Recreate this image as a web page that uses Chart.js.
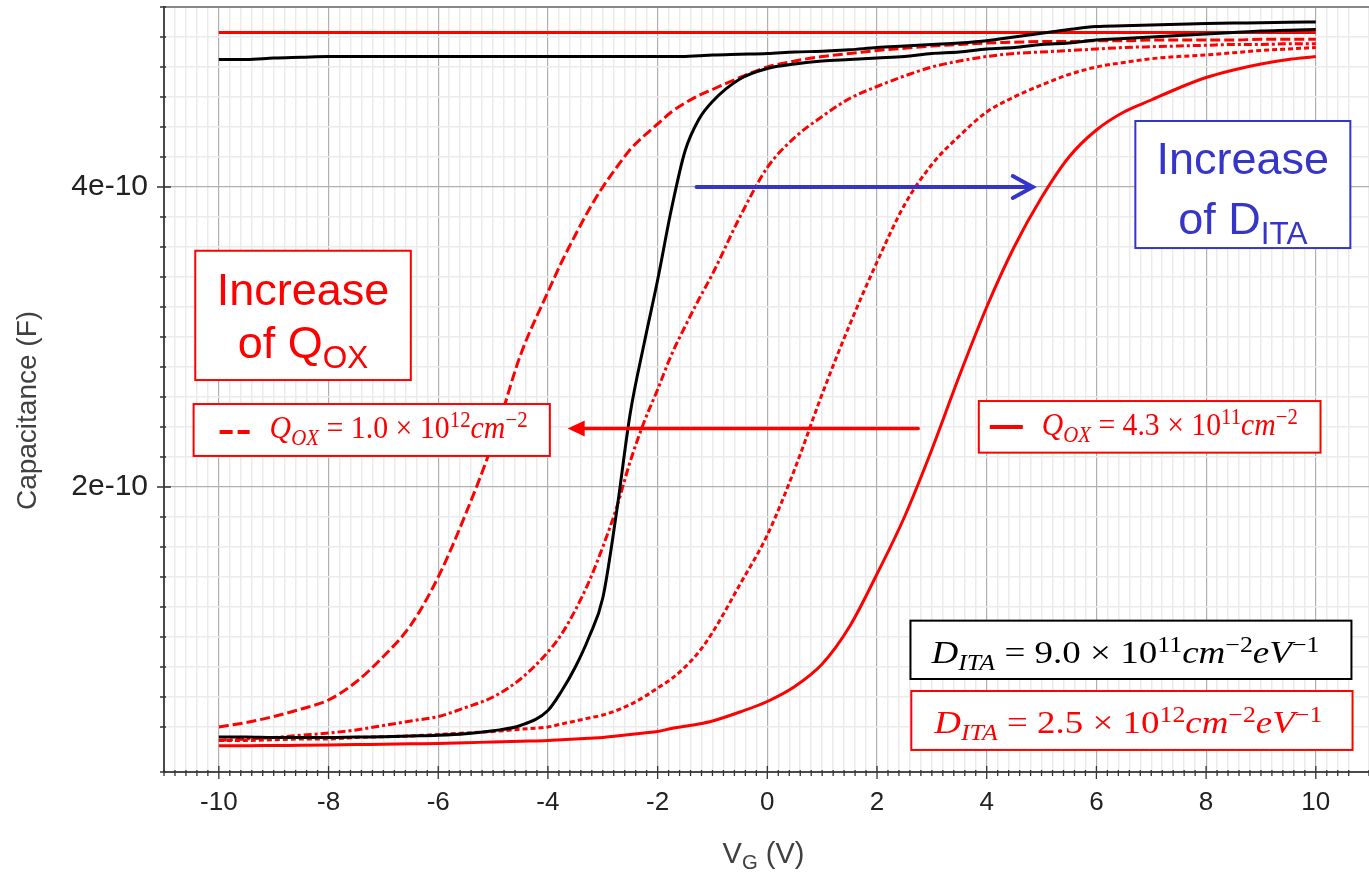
<!DOCTYPE html>
<html>
<head>
<meta charset="utf-8">
<script src="https://cdn.jsdelivr.net/npm/chart.js@4.4.1/dist/chart.umd.min.js"></script>
<style>
  html, body { margin: 0; padding: 0; background: #fff; }
</style>
</head>
<body>
<canvas id="cvChart" width="1369" height="874"></canvas>
<script>
// gate voltage sweep (V)
const vg = [-10, -9.5, -9, -8.5, -8, -7.5, -7, -6.5, -6, -5.5, -5, -4.5,
  -4, -3.75, -3.5, -3.25, -3, -2.75, -2.5, -2.25, -2, -1.75, -1.5, -1.25, -1,
  -0.5, 0, 0.5, 1, 1.5, 2, 2.5, 3, 3.5, 4, 4.5, 5, 5.5, 6, 6.5, 7, 7.5, 8, 8.5, 9, 9.5, 10];

// capacitance values, in units of 1e-10 F
const capBlackSteep = [0.333, 0.333, 0.330, 0.330, 0.330, 0.333, 0.335, 0.340, 0.345, 0.355, 0.375, 0.410,
  0.510, 0.640, 0.800, 1.000, 1.260, 1.830, 2.490, 2.950, 3.380, 3.850, 4.240, 4.450, 4.570,
  4.720, 4.790, 4.820, 4.840, 4.850, 4.860, 4.870, 4.890, 4.900, 4.920, 4.930, 4.950, 4.960, 4.980, 4.990, 5.000, 5.010, 5.020, 5.030, 5.040, 5.045, 5.050];
const capBlackFlat = [4.850, 4.850, 4.860, 4.865, 4.870, 4.870, 4.870, 4.870, 4.870, 4.870, 4.870, 4.870,
  4.870, 4.870, 4.870, 4.870, 4.870, 4.870, 4.870, 4.870, 4.870, 4.870, 4.870, 4.875, 4.880,
  4.885, 4.890, 4.900, 4.905, 4.915, 4.930, 4.940, 4.950, 4.960, 4.975, 5.000, 5.025, 5.050, 5.070, 5.075, 5.080, 5.085, 5.090, 5.093, 5.095, 5.098, 5.100];
const capLongDash = [0.400, 0.430, 0.470, 0.520, 0.580, 0.700, 0.870, 1.080, 1.400, 1.820, 2.300, 2.880,
  3.300, 3.500, 3.680, 3.850, 4.000, 4.130, 4.250, 4.340, 4.420, 4.500, 4.560, 4.610, 4.650,
  4.730, 4.800, 4.840, 4.870, 4.890, 4.910, 4.925, 4.940, 4.950, 4.960, 4.965, 4.970, 4.970, 4.975, 4.975, 4.980, 4.980, 4.980, 4.980, 4.985, 4.985, 4.985];
const capDashDot = [0.310, 0.320, 0.330, 0.345, 0.360, 0.380, 0.410, 0.440, 0.470, 0.530, 0.600, 0.720,
  0.900, 1.020, 1.180, 1.370, 1.600, 1.860, 2.170, 2.430, 2.650, 2.880, 3.070, 3.250, 3.420,
  3.800, 4.130, 4.330, 4.470, 4.590, 4.670, 4.740, 4.800, 4.840, 4.870, 4.890, 4.900, 4.910, 4.920, 4.930, 4.935, 4.940, 4.945, 4.950, 4.950, 4.955, 4.955];
const capShortDash = [0.310, 0.310, 0.315, 0.320, 0.320, 0.330, 0.335, 0.340, 0.350, 0.360, 0.370, 0.385,
  0.400, 0.420, 0.440, 0.460, 0.480, 0.510, 0.550, 0.600, 0.660, 0.720, 0.800, 0.900, 1.030,
  1.350, 1.680, 2.120, 2.620, 3.080, 3.500, 3.880, 4.150, 4.340, 4.500, 4.600, 4.680, 4.750, 4.800, 4.830, 4.855, 4.870, 4.880, 4.895, 4.910, 4.920, 4.930];
const capRedSolid = [0.275, 0.275, 0.277, 0.278, 0.280, 0.283, 0.285, 0.288, 0.290, 0.295, 0.300, 0.305,
  0.310, 0.315, 0.320, 0.325, 0.330, 0.340, 0.350, 0.360, 0.370, 0.390, 0.405, 0.420, 0.440,
  0.500, 0.570, 0.670, 0.820, 1.070, 1.420, 1.800, 2.250, 2.740, 3.200, 3.600, 3.930, 4.200, 4.380, 4.500, 4.580, 4.660, 4.730, 4.780, 4.820, 4.850, 4.870];
const vgFlatRed = [-10, 10];
const capFlatRed = [5.03, 5.03];

// tick labels
const xTickValues = [-10, -8, -6, -4, -2, 0, 2, 4, 6, 8, 10];
const xTickLabels = ['-10', '-8', '-6', '-4', '-2', '0', '2', '4', '6', '8', '10'];
const yTickValues = [2e-10, 4e-10];
const yTickLabels = ['2e-10', '4e-10'];

const RED = '#ff0000';
const BLUE = '#3535c8';
const SANS = '"Liberation Sans", Arial, sans-serif';
const SERIF = '"Liberation Serif", "Times New Roman", serif';

function pts(xs, ys) {
  return xs.map((x, i) => ({ x: x, y: ys[i] * 1e-10 }));
}
function findTick(list, v, tol) {
  return list.findIndex(t => Math.abs(t - v) < tol);
}

// annotation boxes, in data coordinates (V, F)
const notes = [
  { x0: -10.43, x1: -6.50, y0: 3.575e-10, y1: 2.713e-10, color: RED, lineW: 2,
    sans: [{ dy: 54, segs: [{ t: 'Increase' }] }, { dy: 107, segs: [{ t: 'of Q' }, { t: 'OX', sub: true }] }] },
  { x0: 6.71, x1: 10.63, y0: 4.44e-10, y1: 3.593e-10, color: BLUE, lineW: 2,
    sans: [{ dy: 53, segs: [{ t: 'Increase' }] }, { dy: 113, segs: [{ t: 'of D' }, { t: 'ITA', sub: true }] }] },
  { x0: -10.46, x1: -3.965, y0: 2.553e-10, y1: 2.207e-10, color: RED, lineW: 2,
    sample: 'dash', tx: 76, ty: 34, tw: 258,
    math: [{ t: 'Q', it: true }, { t: 'OX', it: true, sub: true }, { t: ' = 1.0 × 10' }, { t: '12', sup: true },
      { t: 'cm', it: true }, { t: '\u22122', sup: true }] },
  { x0: 3.856, x1: 10.086, y0: 2.573e-10, y1: 2.229e-10, color: RED, lineW: 2,
    sample: 'line', tx: 63, ty: 34, tw: 256,
    math: [{ t: 'Q', it: true }, { t: 'OX', it: true, sub: true }, { t: ' = 4.3 × 10' }, { t: '11', sup: true },
      { t: 'cm', it: true }, { t: '\u22122', sup: true }] },
  { x0: 2.61, x1: 10.65, y0: 1.109e-10, y1: 0.72e-10, color: '#000', lineW: 2,
    tx: 21, ty: 42, tw: 388,
    math: [{ t: 'D', it: true }, { t: 'ITA', it: true, sub: true }, { t: ' = 9.0 × 10' }, { t: '11', sup: true },
      { t: 'cm', it: true }, { t: '\u22122', sup: true }, { t: 'eV', it: true }, { t: '\u22121', sup: true }] },
  { x0: 2.625, x1: 10.67, y0: 0.64e-10, y1: 0.247e-10, color: RED, lineW: 2,
    tx: 23, ty: 42, tw: 388,
    math: [{ t: 'D', it: true }, { t: 'ITA', it: true, sub: true }, { t: ' = 2.5 × 10' }, { t: '12', sup: true },
      { t: 'cm', it: true }, { t: '\u22122', sup: true }, { t: 'eV', it: true }, { t: '\u22121', sup: true }] }
];

const arrows = [
  { from: -1.29, to: 4.84, at: 4.0e-10, color: BLUE, width: 4, head: 'open' },
  { from: 2.75, to: -3.64, at: 2.39e-10, color: RED, width: 3.5, head: 'filled' }
];

function fontFor(s, size, family) {
  const fs = (s.sup || s.sub) ? size * 0.7 : size;
  return (s.it ? 'italic ' : '') + fs.toFixed(2) + 'px ' + family;
}
function richWidth(ctx, segs, size, family) {
  let w = 0;
  segs.forEach(s => { ctx.font = fontFor(s, size, family); w += ctx.measureText(s.t).width; });
  return w;
}
function drawRich(ctx, segs, x, y, size, family, supUp, subDown) {
  segs.forEach(s => {
    ctx.font = fontFor(s, size, family);
    const dy = s.sup ? -size * supUp : (s.sub ? size * subDown : 0);
    ctx.fillText(s.t, x, y + dy);
    x += ctx.measureText(s.t).width;
  });
}

const overlay = {
  id: 'overlay',
  afterDraw(chart) {
    const { ctx, chartArea: a } = chart;
    const xs = chart.scales.x, ys = chart.scales.y;
    ctx.save();

    // top frame line
    ctx.strokeStyle = '#666';
    ctx.lineWidth = 1.5;
    ctx.beginPath();
    ctx.moveTo(a.left, a.top);
    ctx.lineTo(a.right, a.top);
    ctx.stroke();

    // tick marks (major ones cross the axis)
    ctx.strokeStyle = '#333';
    ctx.lineWidth = 1.3;
    ctx.beginPath();
    xs.ticks.forEach(t => {
      const p = xs.getPixelForValue(t.value);
      if (findTick(xTickValues, t.value, 1e-6) >= 0) {
        ctx.moveTo(p, a.bottom - 6); ctx.lineTo(p, a.bottom + 7);
      } else {
        ctx.moveTo(p, a.bottom - 2); ctx.lineTo(p, a.bottom + 4);
      }
    });
    ys.ticks.forEach(t => {
      const p = ys.getPixelForValue(t.value);
      if (findTick(yTickValues, t.value, 1e-15) >= 0) {
        ctx.moveTo(a.left - 7, p); ctx.lineTo(a.left + 7, p);
      } else {
        ctx.moveTo(a.left - 4, p); ctx.lineTo(a.left + 2, p);
      }
    });
    ctx.stroke();

    // axis titles
    ctx.fillStyle = '#404040';
    ctx.textBaseline = 'alphabetic';
    const xt = [{ t: 'V' }, { t: 'G', sub: true }, { t: ' (V)' }];
    const xtw = richWidth(ctx, xt, 29, SANS);
    drawRich(ctx, xt, (a.left + a.right) / 2 - xtw / 2 - 3, a.bottom + 91, 29, SANS, 0.4, 0.2);
    ctx.save();
    ctx.translate(a.left - 136, (a.top + a.bottom) / 2 + 21);
    ctx.rotate(-Math.PI / 2);
    ctx.font = '28px ' + SANS;
    ctx.textAlign = 'center';
    ctx.textBaseline = 'middle';
    ctx.fillText('Capacitance (F)', 0, 0);
    ctx.restore();

    // boxes with text
    notes.forEach(n => {
      const l = xs.getPixelForValue(n.x0), r = xs.getPixelForValue(n.x1);
      const t = ys.getPixelForValue(n.y0), b = ys.getPixelForValue(n.y1);
      ctx.fillStyle = '#fff';
      ctx.fillRect(l, t, r - l, b - t);
      ctx.strokeStyle = n.color;
      ctx.lineWidth = n.lineW;
      ctx.strokeRect(l, t, r - l, b - t);
      ctx.fillStyle = n.color;
      ctx.textAlign = 'left';
      ctx.textBaseline = 'alphabetic';
      if (n.sans) {
        n.sans.forEach(line => {
          const w = richWidth(ctx, line.segs, 45, SANS);
          drawRich(ctx, line.segs, (l + r) / 2 - w / 2, t + line.dy, 45, SANS, 0.4, 0.22);
        });
      }
      if (n.math) {
        // tall glyphs squeezed sideways to the box's text width
        const size = 32;
        const w = richWidth(ctx, n.math, size, SERIF);
        ctx.save();
        ctx.translate(l + n.tx, t + n.ty);
        ctx.scale(n.tw / w, 1);
        drawRich(ctx, n.math, 0, 0, size, SERIF, 0.34, 0.22);
        ctx.restore();
      }
      if (n.sample === 'dash') {
        ctx.lineWidth = 4;
        ctx.beginPath();
        ctx.moveTo(l + 26, t + 28); ctx.lineTo(l + 39, t + 28);
        ctx.moveTo(l + 44, t + 28); ctx.lineTo(l + 56, t + 28);
        ctx.stroke();
      } else if (n.sample === 'line') {
        ctx.lineWidth = 4;
        ctx.beginPath();
        ctx.moveTo(l + 11, t + 26); ctx.lineTo(l + 44, t + 26);
        ctx.stroke();
      }
    });

    // arrows
    arrows.forEach(ar => {
      const x0 = xs.getPixelForValue(ar.from), x1 = xs.getPixelForValue(ar.to);
      const yy = ys.getPixelForValue(ar.at);
      const dir = Math.sign(x1 - x0);
      ctx.strokeStyle = ar.color;
      ctx.fillStyle = ar.color;
      ctx.lineWidth = ar.width;
      ctx.lineCap = 'round';
      ctx.beginPath();
      if (ar.head === 'open') {
        ctx.moveTo(x0, yy); ctx.lineTo(x1 - dir * 2, yy);
        ctx.moveTo(x1 - dir * 20, yy - 11); ctx.lineTo(x1, yy); ctx.lineTo(x1 - dir * 20, yy + 11);
        ctx.stroke();
      } else {
        ctx.moveTo(x0, yy); ctx.lineTo(x1 - dir * 12, yy);
        ctx.stroke();
        ctx.beginPath();
        ctx.moveTo(x1, yy);
        ctx.lineTo(x1 - dir * 17, yy - 8);
        ctx.lineTo(x1 - dir * 17, yy + 8);
        ctx.closePath();
        ctx.fill();
      }
    });
    ctx.restore();
  }
};

function lineSet(label, xs, ys, color, dash, width) {
  return {
    label: label,
    data: pts(xs, ys),
    borderColor: color,
    borderWidth: width,
    borderDash: dash,
    pointRadius: 0,
    fill: false,
    cubicInterpolationMode: 'monotone'
  };
}

const chart = new Chart(document.getElementById('cvChart'), {
  type: 'line',
  data: {
    datasets: [
      lineSet('DITA 9.0e11, steep', vg, capBlackSteep, '#000', [], 3),
      lineSet('DITA 9.0e11, flat', vg, capBlackFlat, '#000', [], 3),
      lineSet('Qox 1.0e12', vg, capLongDash, RED, [10, 4], 3),
      lineSet('dash-dot', vg, capDashDot, RED, [8, 3, 3, 3], 3),
      lineSet('short dash', vg, capShortDash, RED, [5, 3], 3),
      lineSet('Qox 4.3e11', vg, capRedSolid, RED, [], 3),
      lineSet('flat red', vgFlatRed, capFlatRed, RED, [], 3)
    ]
  },
  options: {
    responsive: false,
    animation: false,
    devicePixelRatio: 1,
    layout: { padding: { top: 7, right: 0, left: 0, bottom: 0 } },
    plugins: { legend: { display: false }, tooltip: { enabled: false } },
    scales: {
      x: {
        type: 'linear',
        min: -11,
        max: 10.97,
        afterFit: s => { s.height = 102; s.paddingLeft = 0; s.paddingRight = 0; },
        border: { color: '#4a4a4a', width: 2 },
        grid: {
          drawTicks: false,
          color: c => findTick(xTickValues, c.tick.value, 1e-6) >= 0 ? '#b0b0b0' : '#ebebeb',
          lineWidth: c => findTick(xTickValues, c.tick.value, 1e-6) >= 0 ? 1.2 : 1.5
        },
        ticks: {
          stepSize: 0.2,
          autoSkip: false,
          maxRotation: 0,
          padding: 15,
          color: '#222',
          font: { family: SANS, size: 26 },
          callback: v => {
            const i = findTick(xTickValues, v, 1e-6);
            return i >= 0 ? xTickLabels[i] : '';
          }
        }
      },
      y: {
        type: 'linear',
        min: 1e-11,
        max: 5.2e-10,
        afterFit: s => { s.width = 164; s.paddingTop = 0; s.paddingBottom = 0; },
        border: { color: '#4a4a4a', width: 2 },
        grid: {
          drawTicks: false,
          color: c => findTick(yTickValues, c.tick.value, 1e-15) >= 0 ? '#b0b0b0' : '#ebebeb',
          lineWidth: c => findTick(yTickValues, c.tick.value, 1e-15) >= 0 ? 1.2 : 1.5
        },
        ticks: {
          stepSize: 2e-11,
          autoSkip: false,
          padding: 16,
          color: '#222',
          font: { family: SANS, size: 30 },
          callback: v => {
            const i = findTick(yTickValues, v, 1e-15);
            return i >= 0 ? yTickLabels[i] : '';
          }
        }
      }
    }
  },
  plugins: [overlay]
});
</script>
</body>
</html>
